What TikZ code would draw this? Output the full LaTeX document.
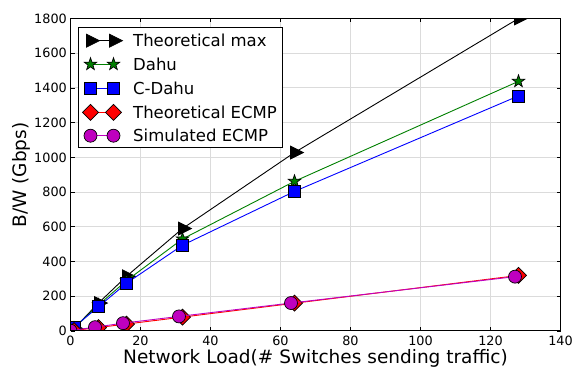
\documentclass[tikz,border=0pt]{standalone}
\usepackage{fontspec}
\setmainfont{DejaVu Sans}
\usetikzlibrary{shapes.geometric}
\definecolor{mplgreen}{rgb}{0,0.5,0}
\definecolor{mplmag}{rgb}{0.75,0,0.75}
\definecolor{gridgray}{rgb}{0.86,0.86,0.86}
\tikzset{
 mk/.style={draw=black,line width=0.7pt,inner sep=0pt,outer sep=0pt},
 trimark/.style={mk,fill=black,isosceles triangle,isosceles triangle stretches,minimum width=13pt,minimum height=13pt},
 starmark/.style={mk,fill=mplgreen,star,star points=5,star point ratio=2.5,minimum size=13pt},
 sqmark/.style={mk,fill=blue,rectangle,minimum size=12pt},
 diamark/.style={mk,fill=red,diamond,minimum size=16pt},
 circmark/.style={mk,fill=mplmag,circle,minimum size=13pt},
 ser/.style={line width=0.9pt},
 gridline/.style={draw=gridgray,line width=0.9pt},
 tickmark/.style={draw=black,line width=0.7pt},
 ticklab/.style={font=\fontsize{12.8}{14}\selectfont,inner sep=0pt},
 leglab/.style={font=\fontsize{16.5}{19}\selectfont,inner sep=0pt,anchor=west},
 axlab/.style={font=\fontsize{18.5}{21}\selectfont,inner sep=0pt},
}
\begin{document}
\begin{tikzpicture}
\useasboundingbox[fill=white] (0,0) rectangle (574pt,369pt);
\begin{scope}[shift={(70.5pt,38pt)},x=3.5pt,y=0.173611pt]
  % grid
  \foreach \v in {20,40,...,120} \draw[gridline] (\v,0) -- (\v,1800);
  \foreach \v in {200,400,...,1600} \draw[gridline] (0,\v) -- (140,\v);
  % data
  \begin{scope}
    \clip (0,0) rectangle (140,1800);
    % Theoretical max
    \foreach \i/\xv/\yv in {1/1/14,2/8/161,3/16/315,4/32/590,5/64/1028,6/128/1800}
      \coordinate (tm\i) at (\xv,\yv);
    \draw[ser,black] (tm1) -- (tm2) -- (tm3) -- (tm4) -- (tm5) -- (tm6);
    \foreach \i in {1,...,6} \node[trimark] (tmm\i) at (tm\i) {};
    % Dahu
    \foreach \i/\xv/\yv in {1/1/16,2/8/150,3/16/290,4/32/530,5/64/862,6/128/1438}
      \coordinate (dh\i) at (\xv,\yv);
    \draw[ser,mplgreen] (dh1) -- (dh2) -- (dh3) -- (dh4) -- (dh5) -- (dh6);
    \foreach \i in {1,...,6} \node[starmark] (dhm\i) at (dh\i) {};
    % C-Dahu
    \foreach \i/\xv/\yv in {1/1/22,2/8/140,3/16/275,4/32/494,5/64/804,6/128/1354}
      \coordinate (cd\i) at (\xv,\yv);
    \draw[ser,blue] (cd1) -- (cd2) -- (cd3) -- (cd4) -- (cd5) -- (cd6);
    \foreach \i in {1,...,6} \node[sqmark] (cdm\i) at (cd\i) {};
    % Theoretical ECMP
    \foreach \i/\xv/\yv in {1/1/2.5,2/8/20,3/16/40,4/32/80,5/64/160,6/128/320}
      \coordinate (te\i) at (\xv,\yv);
    \draw[ser,red] (te1) -- (te2) -- (te3) -- (te4) -- (te5) -- (te6);
    \foreach \i in {1,...,6} \node[diamark] (tem\i) at (te\i) {};
    % Simulated ECMP
    \foreach \i/\xv/\yv in {1/0/2,2/7/22,3/15/45,4/31/84,5/63/161,6/127/313}
      \coordinate (se\i) at (\xv,\yv);
    \draw[ser,mplmag] (se1) -- (se2) -- (se3) -- (se4) -- (se5) -- (se6);
    \foreach \i in {1,...,6} \node[circmark] (sem\i) at (se\i) {};
  \end{scope}
  % frame
  \draw[line width=1pt] (0,0) rectangle (140,1800);
  % ticks
  \foreach \v in {0,20,...,140} {
    \draw[tickmark] (\v,0) -- ++(0pt,4pt);
    \draw[tickmark] (\v,1800) -- ++(0pt,-4pt);
    \node[ticklab,anchor=north] (xt\v) at ([yshift=-5pt]\v,0) {\v};
  }
  \foreach \v in {0,200,...,1800} {
    \draw[tickmark] (0,\v) -- ++(4pt,0pt);
    \draw[tickmark] (140,\v) -- ++(-4pt,0pt);
    \node[ticklab,anchor=east] (yt\v) at ([xshift=-3.5pt]0,\v) {\v};
  }
\end{scope}
% axis labels
\node[axlab,anchor=base] (xlab) at (315.5pt,5pt) {Network Load(\# Switches sending traffic)};
\node[axlab,anchor=base,rotate=90] (ylab) at (27pt,194pt) {B/W (Gbps)};
% legend
\draw[line width=0.8pt,fill=white] (78pt,342pt) rectangle (282pt,222pt);
\foreach \r/\y/\sty/\col/\txt in {
  1/328.3/trimark/black/Theoretical max,
  2/304.7/starmark/mplgreen/Dahu,
  3/280.7/sqmark/blue/C-Dahu,
  4/256.7/diamark/red/Theoretical ECMP,
  5/233.3/circmark/mplmag/Simulated ECMP} {
  \coordinate (la\r) at (90.5pt,\y pt);
  \coordinate (lb\r) at (113.5pt,\y pt);
  \draw[ser,\col] (la\r) -- (lb\r);
  \node[\sty] (lma\r) at (la\r) {};
  \node[\sty] (lmb\r) at (lb\r) {};
  \node[leglab] (lt\r) at (133pt,\y pt) {\txt};
}
\end{tikzpicture}
\end{document}
